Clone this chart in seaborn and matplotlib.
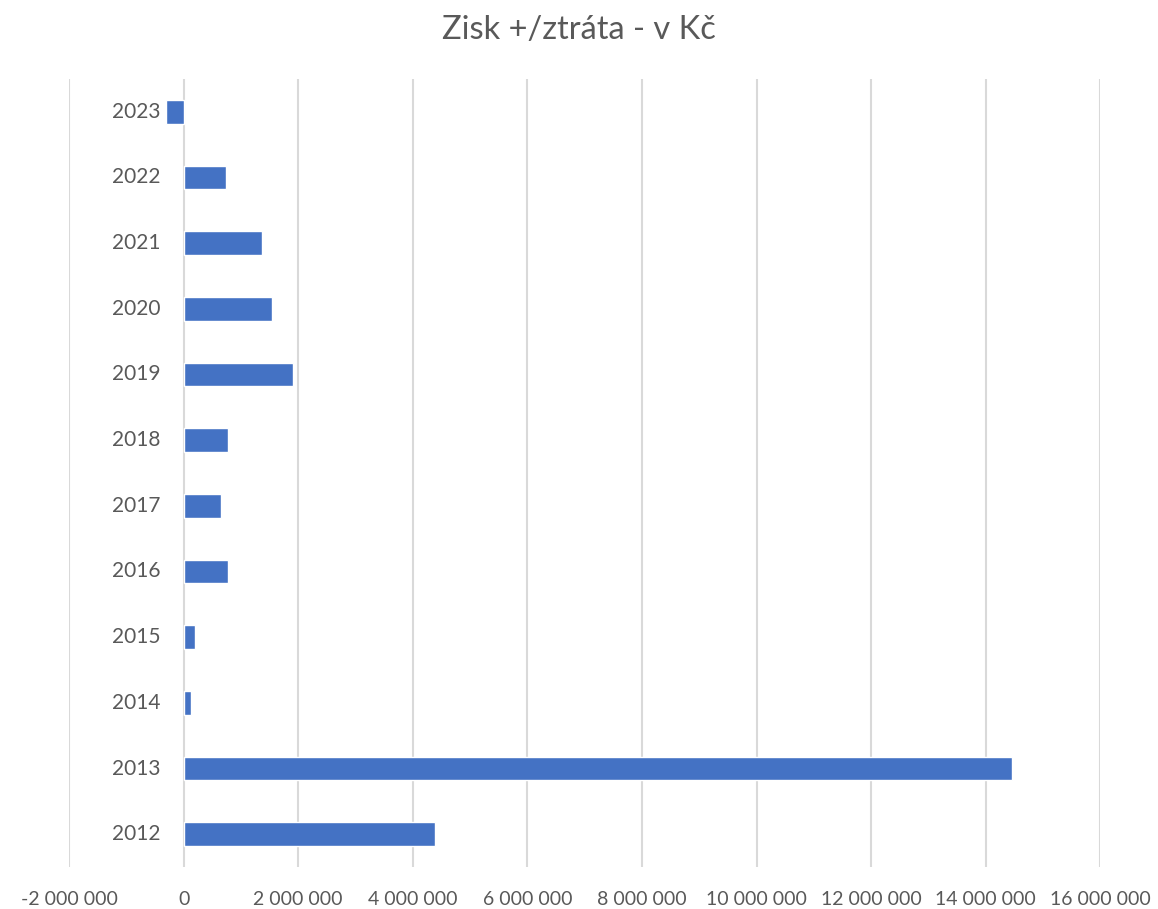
import numpy as np
import pandas as pd
import matplotlib
matplotlib.use('Agg')
import matplotlib.pyplot as plt
import seaborn as sns

# data
roky = ['2012', '2013', '2014', '2015', '2016', '2017',
        '2018', '2019', '2020', '2021', '2022', '2023']
zisk = [4390000, 14460000, 134000, 197000, 780000, 645000,
        780000, 1910000, 1550000, 1375000, 735000, -300000]
x_ticks = list(range(-2000000, 16000001, 2000000))

sns.set_theme(style='white')
plt.rcParams['font.family'] = ['Lato', 'DejaVu Sans']

text_color = '#595959'
bar_color = '#4472C4'

df = pd.DataFrame({'rok': roky, 'zisk': zisk})

fig = plt.figure(figsize=(11.58, 9.09), dpi=100)
ax = fig.add_axes([0.0596, 0.0462, 0.8907, 0.8669])

sns.barplot(data=df, x='zisk', y='rok', order=roky[::-1], color=bar_color,
            saturation=1, width=0.36, ax=ax)

ax.set_xlim(-2000000, 16000000)
ax.set_ylim(len(roky) - 0.5, -0.5)
ax.set_xticks(x_ticks)
ax.set_xticklabels(['{:,}'.format(v).replace(',', ' ') for v in x_ticks])
ax.tick_params(axis='x', length=0, pad=17, labelsize=14, colors=text_color)
ax.set_yticks([])
ax.set_xlabel('')
ax.set_ylabel('')

ax.grid(axis='x', color='#d9d9d9', linewidth=1.5)
ax.set_axisbelow(True)
for s in ax.spines.values():
    s.set_visible(False)

# category labels sit next to the zero axis, like in Excel
for i, rok in enumerate(roky[::-1]):
    ax.annotate(rok, xy=(0, i), xytext=(-17, 0), textcoords='offset points',
                ha='right', va='center', fontsize=15, color=text_color)

fig.suptitle('Zisk +/ztráta - v Kč', y=1 - 30 / 909, va='center',
             fontsize=23.5, color=text_color)

fig.savefig('out.png', dpi=100)
